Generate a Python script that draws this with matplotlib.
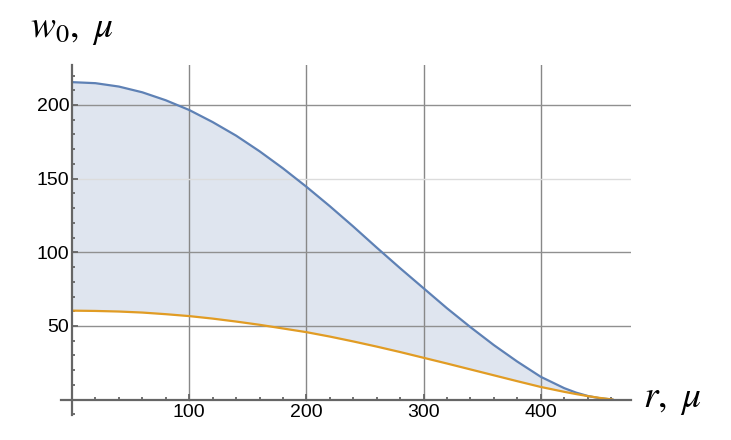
import matplotlib
matplotlib.use("Agg")
import matplotlib.pyplot as plt
import numpy as np
from matplotlib.ticker import MultipleLocator, FixedLocator

# ---- data ----
r = [0, 20, 40, 60, 80, 100, 120, 140, 160, 180, 200, 220, 240, 260, 280,
     300, 320, 340, 360, 380, 400, 420, 430, 440, 450, 462]
w_upper = [215.5, 214.8, 212.5, 208.6, 203.2, 196.6, 188.4, 179.2, 168.6,
           157.0, 144.5, 131.3, 117.5, 103.2, 89.2, 75.6, 62.0, 49.2, 37.0,
           25.8, 15.5, 7.8, 4.8, 2.5, 1.0, 0.0]
w_lower = [60.4, 60.2, 59.8, 59.1, 58.0, 56.7, 55.0, 53.0, 50.8, 48.3, 45.8,
           42.8, 39.5, 36.0, 32.3, 28.4, 24.5, 20.5, 16.5, 12.5, 8.6, 5.3,
           3.8, 2.4, 1.2, 0.0]
x_major = [100, 200, 300, 400]
y_major = [50, 100, 150, 200]
x_label = r"$r,\ \mu$"
y_label = r"$w_0,\ \mu$"

plt.rcParams['mathtext.fontset'] = 'stix'
plt.rcParams['font.family'] = ['Liberation Sans', 'DejaVu Sans']

fig = plt.figure(figsize=(7.31, 4.40), dpi=100)
ax = fig.add_axes([0.0841, 0.0566, 0.8632 - 0.0841, 0.8518 - 0.0566])
ax.set_xlim(-9, 477)
ax.set_ylim(-10.5, 227)

blue = '#5e81b5'
orange = '#e19c24'
axis_c = '#666666'

# grid lines
for xv in x_major:
    ax.plot([xv, xv], [0, 227], color='#888888', lw=1.0, zorder=1)
for yv in y_major:
    c = '#dcdcdc' if yv == 150 else '#909090'
    ax.plot([0, 477], [yv, yv], color=c, lw=1.0, zorder=1)

ax.fill_between(r, w_lower, w_upper, color='#dfe5ef', lw=0, zorder=0.5)
ax.plot(r, w_upper, color=blue, lw=1.6, zorder=3, solid_capstyle='butt')
ax.plot(r, w_lower, color=orange, lw=1.6, zorder=3, solid_capstyle='butt')

for s in ['top', 'right']:
    ax.spines[s].set_visible(False)
ax.spines['left'].set_position(('data', 0))
ax.spines['bottom'].set_position(('data', 0))
for s in ['left', 'bottom']:
    ax.spines[s].set_color(axis_c)
    ax.spines[s].set_linewidth(1.6)
    ax.spines[s].set_zorder(4)

ax.xaxis.set_major_locator(FixedLocator(x_major))
ax.yaxis.set_major_locator(FixedLocator(y_major))
ax.xaxis.set_minor_locator(MultipleLocator(20))
ax.yaxis.set_minor_locator(MultipleLocator(10))
ax.tick_params(which='both', direction='in', color=axis_c, width=1.3,
               labelsize=14, labelcolor='black')
ax.tick_params(which='major', length=4)
ax.tick_params(which='minor', length=2.5)
ax.tick_params(axis='x', pad=3)
ax.tick_params(axis='y', pad=2)

fig.text(30 / 731, 1 - 37 / 440, y_label, fontsize=27, va='baseline', ha='left')
fig.text(643 / 731, 1 - 407 / 440, x_label, fontsize=27, va='baseline', ha='left')

fig.savefig('out.png', dpi=100)
